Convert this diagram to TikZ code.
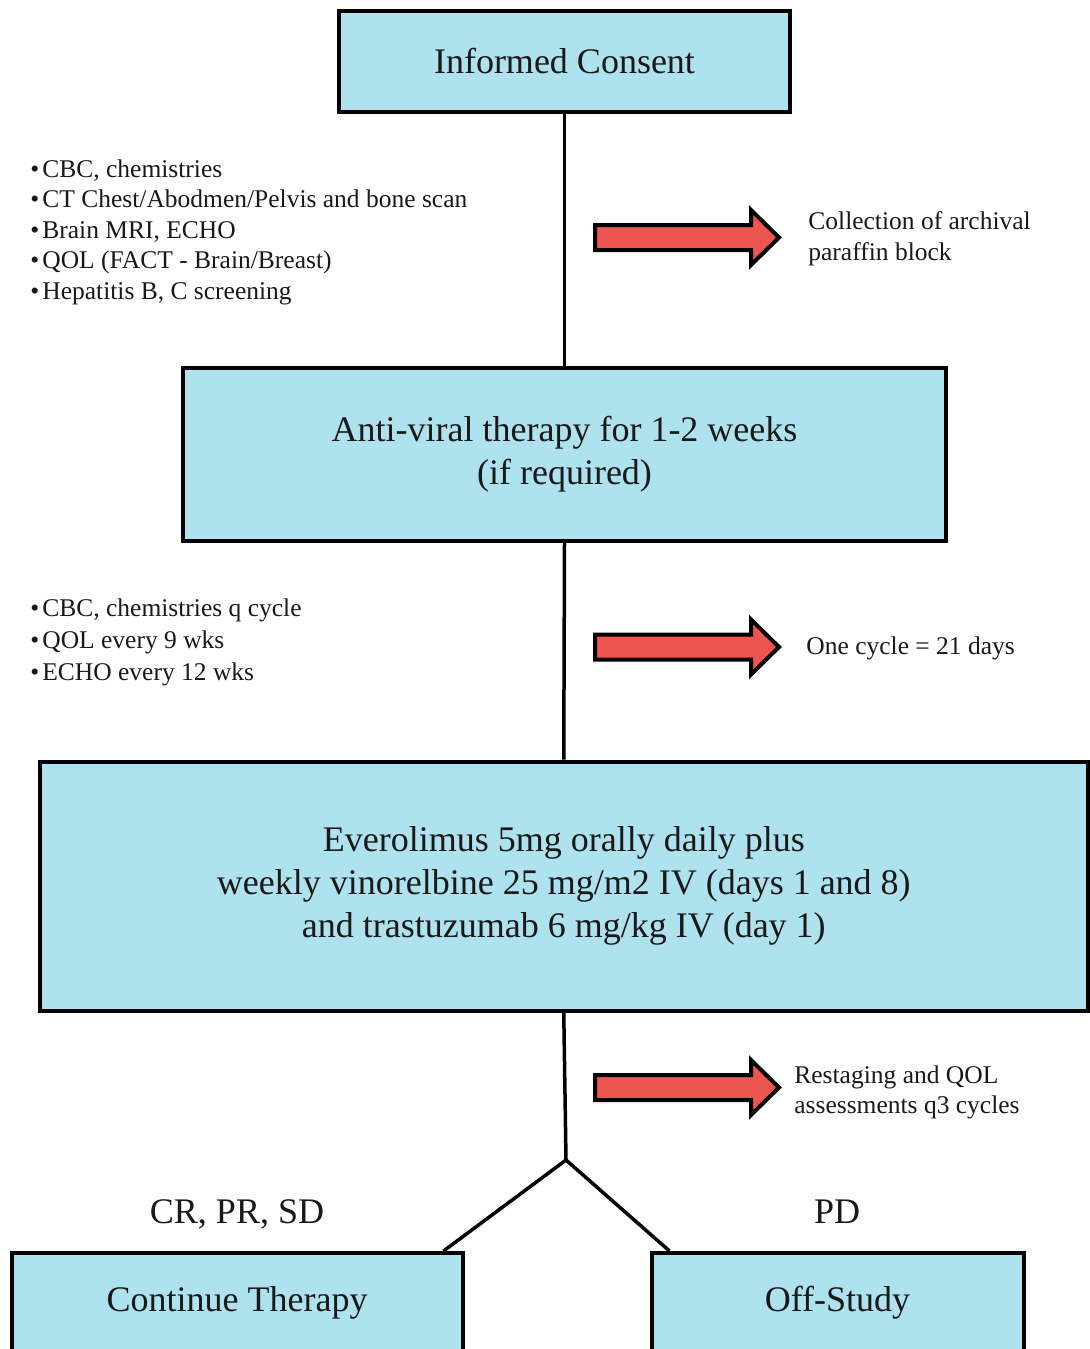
\documentclass[tikz,border=0pt]{standalone}
\usepackage{fontspec}
\setmainfont{Liberation Serif}
\usetikzlibrary{calc}
\definecolor{boxblue}{RGB}{174,226,238}
\definecolor{arrred}{RGB}{238,84,80}
\definecolor{ink}{RGB}{25,25,25}
\begin{document}
\begin{tikzpicture}[x=0.5pt,y=-0.5pt,
  box/.style={draw=black, line width=2pt, fill=boxblue, inner sep=0pt, align=center,
    text=ink, font=\fontsize{18}{21.5}\selectfont},
  bigtext/.style={inner sep=0pt, anchor=base, text=ink, font=\fontsize{18}{21.5}\selectfont},
  listtext/.style={inner sep=0pt, anchor=base west, text=ink},
  redarrow/.style={draw=black, line width=2pt, fill=arrred, line join=miter},
  link/.style={draw=black, line width=1.75pt}]
\useasboundingbox (0,0) rectangle (1090,1349);
\fill[white] (0,0) rectangle (1090,1349);

% boxes
\node[box, minimum width=225.5pt, minimum height=50.5pt] (inf) at (564.5,61.5) {Informed Consent};
\node[box, minimum width=381.5pt, minimum height=86.5pt] (anti) at (564.5,454.5)
  {Anti-viral therapy for 1-2 weeks\\(if required)};
\node[box, minimum width=524.25pt, minimum height=124.5pt] (ever) at (563.75,886)
  {Everolimus 5mg orally daily plus\\weekly vinorelbine 25 mg/m2 IV (days 1 and 8)\\and trastuzumab 6 mg/kg IV (day 1)};
\node[box, anchor=north, minimum width=225.5pt, minimum height=50pt, text height=13pt, text depth=5pt] (cont) at (237,1251) {Continue Therapy};
\node[box, anchor=north, minimum width=186pt, minimum height=50pt, text height=13pt, text depth=5pt] (off) at (837.5,1251) {Off-Study};

% connectors
\draw[link] (inf.south) -- (anti.north);
\draw[link] (anti.south) -- (ever.north);
\coordinate (sp) at (566,1160);
\coordinate (cl) at ($(cont.north east)+(-21,0)$);
\coordinate (cr) at ($(off.north west)+(20,0)$);
\draw[link] (ever.south) -- (sp);
\draw[link, line join=miter] (cl) -- (sp) -- (cr);

% side lists
\node[listtext] (list1) at (30,177) {\fontsize{12.75}{15.3}\selectfont
  \begin{tabular}[t]{@{}l@{}}
  \makebox[6pt][l]{•}CBC, chemistries\\
  \makebox[6pt][l]{•}CT Chest/Abodmen/Pelvis and bone scan\\
  \makebox[6pt][l]{•}Brain MRI, ECHO\\
  \makebox[6pt][l]{•}QOL (FACT - Brain/Breast)\\
  \makebox[6pt][l]{•}Hepatitis B, C screening
  \end{tabular}};
\node[listtext] (list2) at (30,616) {\fontsize{12.75}{16}\selectfont
  \begin{tabular}[t]{@{}l@{}}
  \makebox[6pt][l]{•}CBC, chemistries q cycle\\
  \makebox[6pt][l]{•}QOL every 9 wks\\
  \makebox[6pt][l]{•}ECHO every 12 wks
  \end{tabular}};

% red arrows
\foreach \y/\nm in {237.5/a1, 647/a2, 1087.5/a3}{
  \draw[redarrow] (595,\y-12.5) -- (751,\y-12.5) -- (751,\y-27.5) -- (779,\y)
    -- (751,\y+27.5) -- (751,\y+12.5) -- (595,\y+12.5) -- cycle;
}

% right notes
\node[listtext] (note1) at (808,229) {\fontsize{12.75}{15.5}\selectfont
  \begin{tabular}[t]{@{}l@{}}Collection of archival\\paraffin block\end{tabular}};
\node[listtext] (note2) at (806,654) {\fontsize{12.75}{15.5}\selectfont One cycle = 21 days};
\node[listtext] (note3) at (794,1083) {\fontsize{12.75}{15}\selectfont
  \begin{tabular}[t]{@{}l@{}}Restaging and QOL\\assessments q3 cycles\end{tabular}};

% branch labels
\node[bigtext] (lbl1) at (237,1223) {CR, PR, SD};
\node[bigtext] (lbl2) at (837,1223) {PD};
\end{tikzpicture}
\end{document}
